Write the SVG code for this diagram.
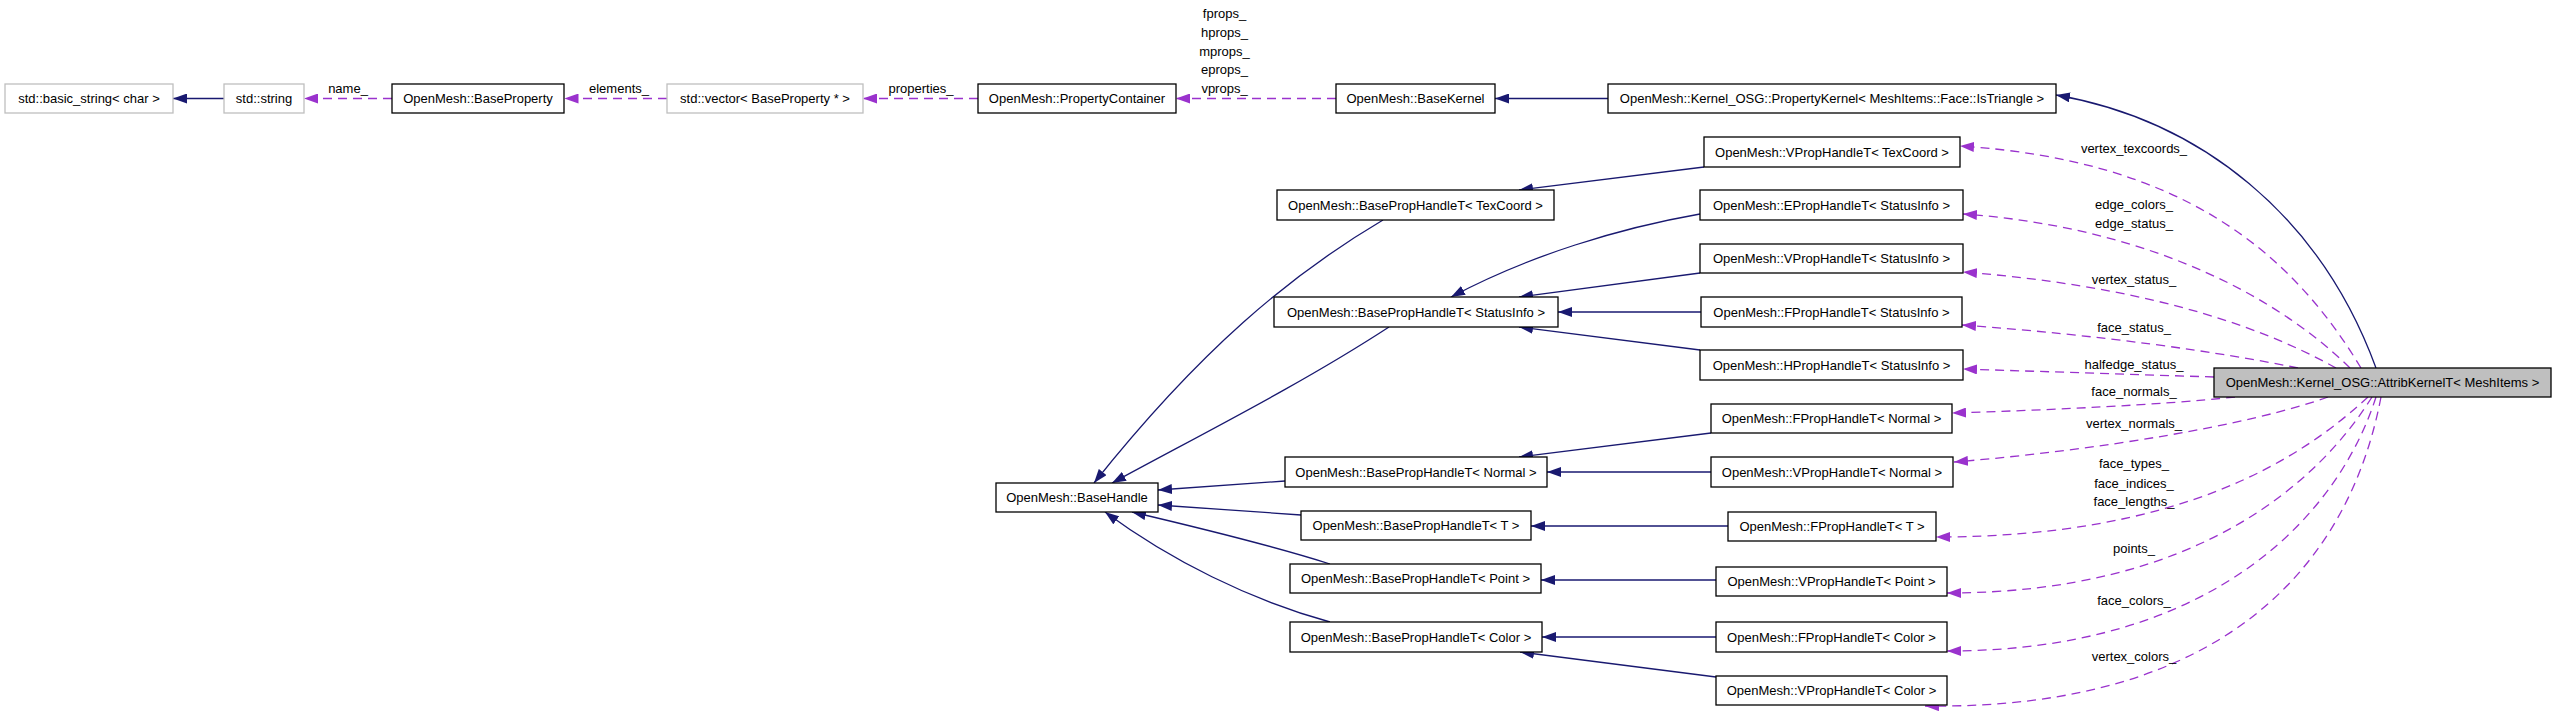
<svg xmlns="http://www.w3.org/2000/svg" width="2557" height="715" viewBox="0 0 2557 715">
<style>
  text { font-family: "Liberation Sans", Arial, sans-serif; font-size: 13px; fill: #000; }
  .n rect { fill: #fff; stroke: #000; stroke-width: 1.3; }
  .g rect { fill: #fff; stroke: #bfbfbf; stroke-width: 1.3; }
  .cur rect { fill: #bfbfbf; stroke: #000; stroke-width: 1.3; }
  .nt { text-anchor: middle; }
  .inh { fill: none; stroke: #191970; stroke-width: 1.3; marker-end: url(#ah); }
  .use { fill: none; stroke: #9a32cd; stroke-width: 1.3; stroke-dasharray: 9,6; marker-end: url(#au); }
  .lbl { text-anchor: middle; }
</style>
<defs>
  <marker id="ah" markerUnits="userSpaceOnUse" markerWidth="14" markerHeight="10" viewBox="0 0 14 10" refX="14" refY="5" orient="auto">
    <path d="M0,0 L14,5 L0,10 z" fill="#191970" stroke="none"/>
  </marker>
  <marker id="au" markerUnits="userSpaceOnUse" markerWidth="14" markerHeight="10" viewBox="0 0 14 10" refX="14" refY="5" orient="auto">
    <path d="M0,0 L14,5 L0,10 z" fill="#9a32cd" stroke="none"/>
  </marker>
</defs>
<rect x="0" y="0" width="2557" height="715" fill="#fff"/>

<g id="connectors">
  <path class="inh" d="M224,98.5 L173,98.5"/>
  <path class="inh" d="M1608,98.5 L1495,98.5"/>
  <path class="inh" d="M2376,368 C2320,215 2200,120 2056,95"/>
  <path class="inh" d="M1704,167 L1519,190"/>
  <path class="inh" d="M1700,214 C1620,228 1530,255 1451,297"/>
  <path class="inh" d="M1700,273 L1519,297"/>
  <path class="inh" d="M1701,312 L1558,312"/>
  <path class="inh" d="M1700,350 L1519,327"/>
  <path class="inh" d="M1711,433 L1519,457"/>
  <path class="inh" d="M1711,472 L1547,472"/>
  <path class="inh" d="M1728,526 L1531,526"/>
  <path class="inh" d="M1716,580 L1541,580"/>
  <path class="inh" d="M1716,637 L1542,637"/>
  <path class="inh" d="M1716,677 L1520,652"/>
  <path class="inh" d="M1383,220 C1290,275 1200,350 1094,483"/>
  <path class="inh" d="M1389,327 C1300,385 1200,435 1112,483"/>
  <path class="inh" d="M1285,481 L1158,490"/>
  <path class="inh" d="M1301,515 L1158,505"/>
  <path class="inh" d="M1330,564 C1280,548 1200,528 1132,512"/>
  <path class="inh" d="M1330,622 C1250,600 1170,560 1105,512"/>

  <path class="use" d="M392,98.5 L304,98.5"/>
  <path class="use" d="M667,98.5 L564.5,98.5"/>
  <path class="use" d="M978,98.5 L863,98.5"/>
  <path class="use" d="M1336,98.5 L1176,98.5"/>
  <path class="use" d="M2361,368 C2290,250 2180,160 1960,146"/>
  <path class="use" d="M2350,368 C2260,280 2120,225 1963,214"/>
  <path class="use" d="M2336,368 C2250,320 2130,285 1963,272"/>
  <path class="use" d="M2298,368 C2220,352 2100,335 1962,325"/>
  <path class="use" d="M2214,377 L1963,369"/>
  <path class="use" d="M2235,397 C2160,405 2050,410 1952,413"/>
  <path class="use" d="M2328,397 C2250,425 2100,450 1954,462"/>
  <path class="use" d="M2368,397 C2300,460 2180,537 1936,537"/>
  <path class="use" d="M2372,397 C2320,480 2200,593 1947,593"/>
  <path class="use" d="M2376,397 C2340,510 2220,651 1947,651"/>
  <path class="use" d="M2381,397 C2350,560 2230,710 1925,706"/>

  <text class="lbl" x="348" y="93">name_</text>
  <text class="lbl" x="619" y="93">elements_</text>
  <text class="lbl" x="921" y="93">properties_</text>
  <text class="lbl" x="1224.5" y="18">fprops_</text>
  <text class="lbl" x="1224.5" y="37">hprops_</text>
  <text class="lbl" x="1224.5" y="56">mprops_</text>
  <text class="lbl" x="1224.5" y="74">eprops_</text>
  <text class="lbl" x="1224.5" y="93">vprops_</text>
  <text class="lbl" x="2134" y="153">vertex_texcoords_</text>
  <text class="lbl" x="2134" y="209">edge_colors_</text>
  <text class="lbl" x="2134" y="228">edge_status_</text>
  <text class="lbl" x="2134" y="284">vertex_status_</text>
  <text class="lbl" x="2134" y="332">face_status_</text>
  <text class="lbl" x="2134" y="369">halfedge_status_</text>
  <text class="lbl" x="2134" y="396">face_normals_</text>
  <text class="lbl" x="2134" y="428">vertex_normals_</text>
  <text class="lbl" x="2134" y="468">face_types_</text>
  <text class="lbl" x="2134" y="488">face_indices_</text>
  <text class="lbl" x="2134" y="506">face_lengths_</text>
  <text class="lbl" x="2134" y="553">points_</text>
  <text class="lbl" x="2134" y="605">face_colors_</text>
  <text class="lbl" x="2134" y="661">vertex_colors_</text>
</g>

<g id="n_basic_string" class="g"><rect x="5" y="84" width="168" height="29"/><text class="nt" x="89" y="103">std::basic_string&lt; char &gt;</text></g>
<g id="n_string" class="g"><rect x="224" y="84" width="80" height="29"/><text class="nt" x="264" y="103">std::string</text></g>
<g id="n_BaseProperty" class="n"><rect x="392" y="84" width="172" height="29"/><text class="nt" x="478" y="103">OpenMesh::BaseProperty</text></g>
<g id="n_vector" class="g"><rect x="667" y="84" width="196" height="29"/><text class="nt" x="765" y="103">std::vector&lt; BaseProperty * &gt;</text></g>
<g id="n_PropertyContainer" class="n"><rect x="978" y="84" width="198" height="29"/><text class="nt" x="1077" y="103">OpenMesh::PropertyContainer</text></g>
<g id="n_BaseKernel" class="n"><rect x="1336" y="84" width="159" height="29"/><text class="nt" x="1415.5" y="103">OpenMesh::BaseKernel</text></g>
<g id="n_PropertyKernel" class="n"><rect x="1608" y="84" width="448" height="29"/><text class="nt" x="1832" y="103">OpenMesh::Kernel_OSG::PropertyKernel&lt; MeshItems::Face::IsTriangle &gt;</text></g>
<g id="n_AttribKernel" class="cur"><rect x="2214" y="368" width="337" height="29"/><text class="nt" x="2382.5" y="387">OpenMesh::Kernel_OSG::AttribKernelT&lt; MeshItems &gt;</text></g>

<g id="n_VProp_TexCoord" class="n"><rect x="1704" y="137" width="256" height="30"/><text class="nt" x="1832" y="156.5">OpenMesh::VPropHandleT&lt; TexCoord &gt;</text></g>
<g id="n_BaseProp_TexCoord" class="n"><rect x="1277" y="190" width="277" height="30"/><text class="nt" x="1415.5" y="209.5">OpenMesh::BasePropHandleT&lt; TexCoord &gt;</text></g>
<g id="n_EProp_StatusInfo" class="n"><rect x="1700" y="190" width="263" height="30"/><text class="nt" x="1831.5" y="209.5">OpenMesh::EPropHandleT&lt; StatusInfo &gt;</text></g>
<g id="n_VProp_StatusInfo" class="n"><rect x="1700" y="244" width="263" height="29"/><text class="nt" x="1831.5" y="263">OpenMesh::VPropHandleT&lt; StatusInfo &gt;</text></g>
<g id="n_BaseProp_StatusInfo" class="n"><rect x="1274" y="297" width="284" height="30"/><text class="nt" x="1416" y="316.5">OpenMesh::BasePropHandleT&lt; StatusInfo &gt;</text></g>
<g id="n_FProp_StatusInfo" class="n"><rect x="1701" y="297" width="261" height="30"/><text class="nt" x="1831.5" y="316.5">OpenMesh::FPropHandleT&lt; StatusInfo &gt;</text></g>
<g id="n_HProp_StatusInfo" class="n"><rect x="1700" y="350" width="263" height="30"/><text class="nt" x="1831.5" y="369.5">OpenMesh::HPropHandleT&lt; StatusInfo &gt;</text></g>
<g id="n_FProp_Normal" class="n"><rect x="1711" y="404" width="241" height="29"/><text class="nt" x="1831.5" y="423">OpenMesh::FPropHandleT&lt; Normal &gt;</text></g>
<g id="n_BaseProp_Normal" class="n"><rect x="1285" y="457" width="262" height="30"/><text class="nt" x="1416" y="476.5">OpenMesh::BasePropHandleT&lt; Normal &gt;</text></g>
<g id="n_VProp_Normal" class="n"><rect x="1711" y="457" width="242" height="30"/><text class="nt" x="1832" y="476.5">OpenMesh::VPropHandleT&lt; Normal &gt;</text></g>
<g id="n_BaseHandle" class="n"><rect x="996" y="483" width="162" height="29"/><text class="nt" x="1077" y="502">OpenMesh::BaseHandle</text></g>
<g id="n_BaseProp_T" class="n"><rect x="1301" y="511" width="230" height="29"/><text class="nt" x="1416" y="530">OpenMesh::BasePropHandleT&lt; T &gt;</text></g>
<g id="n_FProp_T" class="n"><rect x="1728" y="512" width="208" height="29"/><text class="nt" x="1832" y="531">OpenMesh::FPropHandleT&lt; T &gt;</text></g>
<g id="n_BaseProp_Point" class="n"><rect x="1290" y="564" width="251" height="29"/><text class="nt" x="1415.5" y="583">OpenMesh::BasePropHandleT&lt; Point &gt;</text></g>
<g id="n_VProp_Point" class="n"><rect x="1716" y="567" width="231" height="29"/><text class="nt" x="1831.5" y="586">OpenMesh::VPropHandleT&lt; Point &gt;</text></g>
<g id="n_BaseProp_Color" class="n"><rect x="1290" y="622" width="252" height="30"/><text class="nt" x="1416" y="641.5">OpenMesh::BasePropHandleT&lt; Color &gt;</text></g>
<g id="n_FProp_Color" class="n"><rect x="1716" y="622" width="231" height="30"/><text class="nt" x="1831.5" y="641.5">OpenMesh::FPropHandleT&lt; Color &gt;</text></g>
<g id="n_VProp_Color" class="n"><rect x="1716" y="676" width="231" height="29"/><text class="nt" x="1831.5" y="695">OpenMesh::VPropHandleT&lt; Color &gt;</text></g>
</svg>
